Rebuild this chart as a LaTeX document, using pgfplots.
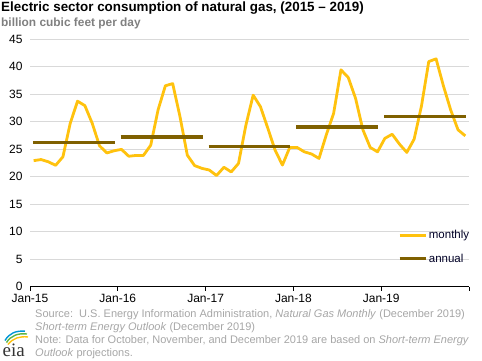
\documentclass[border=0pt]{standalone}
\usepackage{pgfplots}
\pgfplotsset{compat=1.18}
\usepackage{fontspec}
\setmainfont{Liberation Sans}
\newfontfamily\seriffont{Liberation Serif}
\definecolor{monthly}{HTML}{FFC20E}
\definecolor{annual}{HTML}{7F6000}
\definecolor{gridc}{HTML}{D9D9D9}
\definecolor{subgrey}{HTML}{808080}
\definecolor{footgrey}{HTML}{A6A6A6}
\definecolor{eiablue}{HTML}{0096D7}
\definecolor{eiagreen}{HTML}{5DB446}
\definecolor{eiayellow}{HTML}{FFC20E}
\begin{document}
\begin{tikzpicture}[x=1pt,y=1pt]
\useasboundingbox (0,0) rectangle (482,360);
\node[anchor=base west, inner sep=0pt, font=\fontsize{13.4}{15}\selectfont\bfseries] at (1,349) {Electric sector consumption of natural gas, (2015 -- 2019)};
\node[anchor=base west, inner sep=0pt, font=\fontsize{11.9}{13}\selectfont\bfseries, text=subgrey] at (1,333.5) {billion cubic feet per day};
\begin{axis}[
  at={(30pt,73.3pt)}, anchor=south west,
  scale only axis, width=439pt, height=247.7pt,
  xmin=0, xmax=60, ymin=0, ymax=45,
  axis x line*=bottom, axis y line*=left,
  y axis line style={draw=none},
  x axis line style={black, line width=0.8pt},
  xtick={0,12,24,36,48,60},
  xticklabels={Jan-15,Jan-16,Jan-17,Jan-18,Jan-19,},
  ytick={0,5,...,45},
  ymajorgrids, grid style={gridc, line width=0.8pt},
  tick align=outside, major tick length=4pt,
  xtick style={black, line width=0.8pt},
  ytick style={draw=none},
  tick label style={font=\fontsize{12}{14}\selectfont},
  /pgf/number format/assume math mode=true,
  legend style={at={(0.8376,0.232)}, anchor=north west, draw=none, fill=none,
    font=\fontsize{11.5}{13}\selectfont, row sep=11pt, inner sep=0pt,
    nodes={inner sep=1.2pt, text=black!85!blue}},
  legend cell align=left,
  legend image code/.code={\draw[#1] (0pt,0pt) -- (26.6pt,0pt);},
]
\addplot[monthly, line width=2.8pt, line join=round] table[x=x,y=y] {
x y
0.5 22.9
1.5 23.1
2.5 22.7
3.5 22.05
4.5 23.6
5.5 29.7
6.5 33.7
7.5 32.9
8.5 29.7
9.5 25.6
10.5 24.3
11.5 24.7
12.5 24.95
13.5 23.7
14.5 23.85
15.5 23.85
16.5 25.7
17.5 32.1
18.5 36.5
19.5 36.9
20.5 30.9
21.5 23.9
22.5 22.0
23.5 21.5
24.5 21.2
25.5 20.2
26.5 21.7
27.5 20.85
28.5 22.4
29.5 29.3
30.5 34.8
31.5 32.7
32.5 28.8
33.5 24.8
34.5 22.1
35.5 25.3
36.5 25.3
37.5 24.5
38.5 24.1
39.5 23.3
40.5 27.6
41.5 31.5
42.5 39.4
43.5 38.0
44.5 34.2
45.5 28.5
46.5 25.3
47.5 24.5
48.5 26.95
49.5 27.7
50.5 25.9
51.5 24.4
52.5 26.8
53.5 32.8
54.5 40.9
55.5 41.4
56.5 36.5
57.5 32.1
58.5 28.5
59.5 27.4
};
\addlegendentry{monthly}
\addplot[annual, line width=3.2pt, unbounded coords=jump] table[x=x,y=y] {
x y
0.4 26.2
11.6 26.2
12 nan
12.4 27.2
23.6 27.2
24 nan
24.4 25.4
35.6 25.4
36 nan
36.4 29.0
47.6 29.0
48 nan
48.4 30.95
59.6 30.95
};
\addlegendentry{annual}
\end{axis}
\begin{scope}[font=\fontsize{11}{12}\selectfont]
\node[anchor=base west, inner sep=0pt, text=footgrey] at (35,42.3) {Source:\ \ U.S. Energy Information Administration, \textit{Natural Gas Monthly} (December 2019)};
\node[anchor=base west, inner sep=0pt, text=footgrey] at (35,29.3) {\textit{Short-term Energy Outlook} (December 2019)};
\node[anchor=base west, inner sep=0pt, text=footgrey] at (35,16.3) {Note: Data for October, November, and December 2019 are based on \textit{Short-term Energy}};
\node[anchor=base west, inner sep=0pt, text=footgrey] at (35,3.5) {\textit{Outlook} projections.};
\end{scope}
% logo
\draw[eiayellow, line width=1.4pt] (8,15.5) .. controls (13,22) and (20,24) .. (28,23);
\draw[eiagreen, line width=1.4pt] (6.5,17.5) .. controls (11,24.5) and (18,27) .. (27,26);
\draw[eiablue, line width=1.4pt] (5,19.5) .. controls (9.5,27) and (16,29.5) .. (25,28.8);
\node[anchor=base west, inner sep=0pt, font=\seriffont\fontsize{19}{20}\selectfont, text=black!80] at (2.5,3.3) {eia};
\end{tikzpicture}
\end{document}
